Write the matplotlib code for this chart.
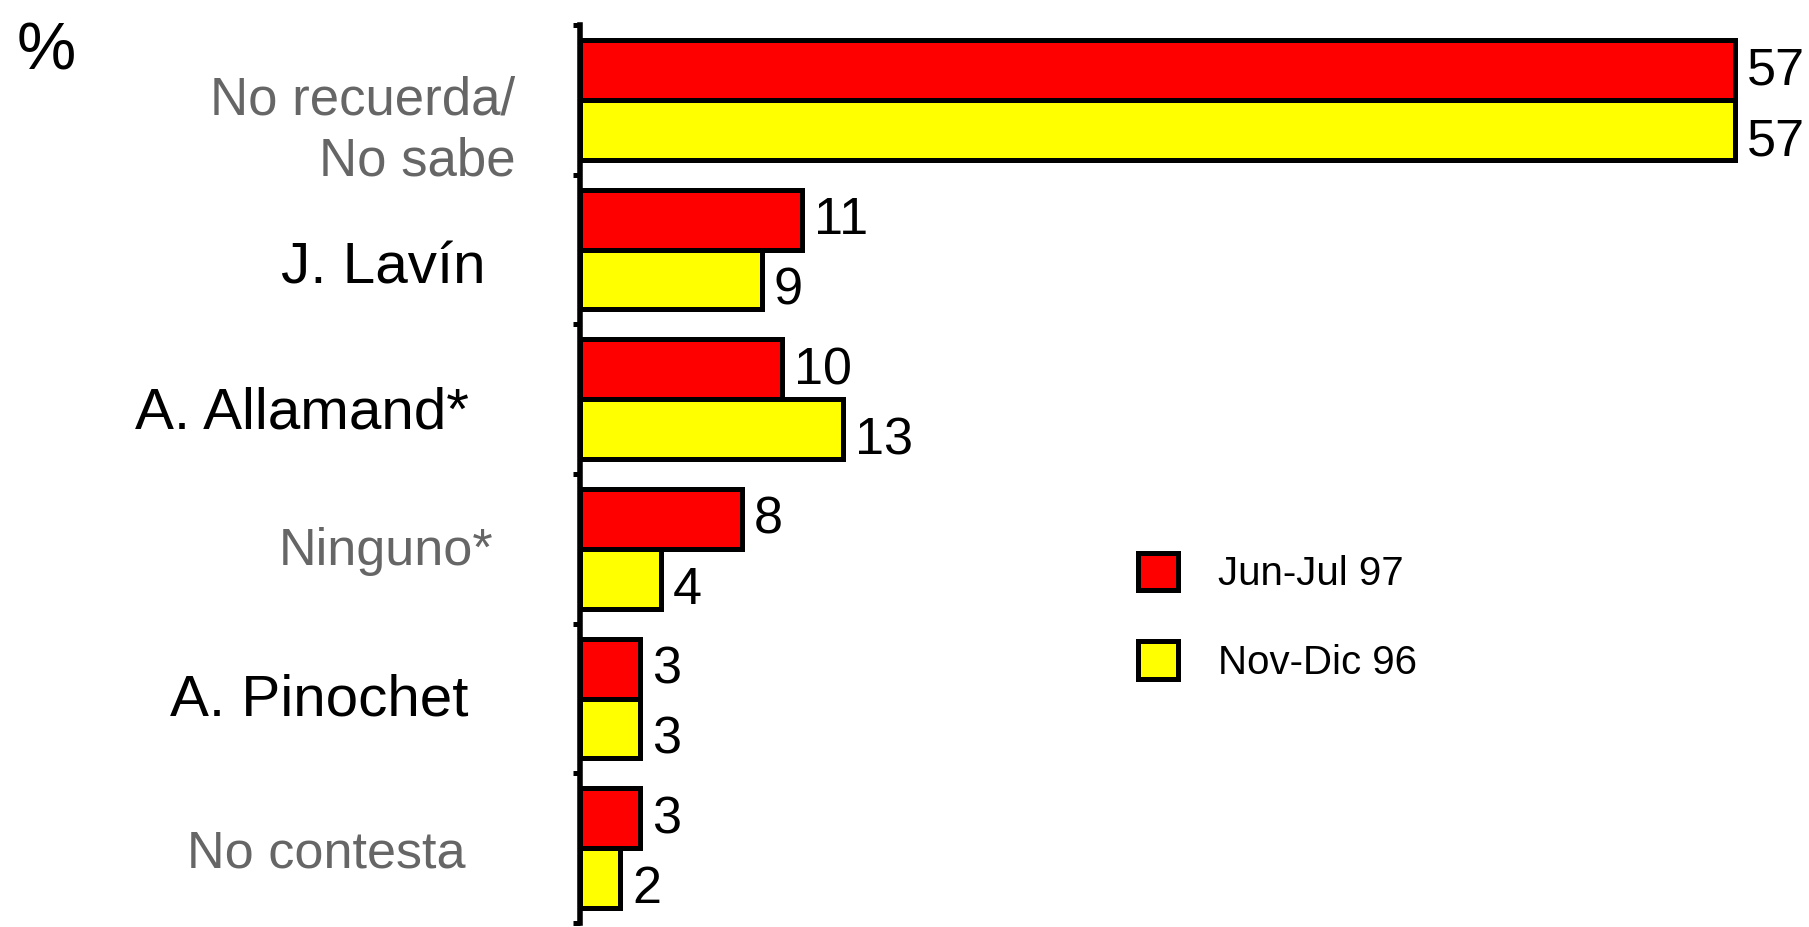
import numpy as np
import matplotlib
matplotlib.use("Agg")
import matplotlib.pyplot as plt
from matplotlib.patches import Patch

plt.rcParams["font.family"] = ["Liberation Sans", "DejaVu Sans"]

# Data
categories = ["No recuerda/\nNo sabe", "J. Lavín", "A. Allamand*", "Ninguno*", "A. Pinochet", "No contesta"]
jun_jul_97 = [57, 11, 10, 8, 3, 3]
nov_dic_96 = [57, 9, 13, 4, 3, 2]
series_names = ["Jun-Jul 97", "Nov-Dic 96"]

# Label styling / layout (offsets in points from the axis line)
label_colors = ["#666666", "black", "black", "#666666", "black", "#666666"]
label_sizes = [38, 42, 42, 37.5, 42, 37.5]
label_dx = [-46, -68, -80, -62, -80, -82]
label_dy = [-22.5, -13.6, -10.5, -2, -1.4, -4]

W, H = 1809, 927
fig = plt.figure(figsize=(W / 100, H / 100), dpi=100)
ax_left, ax_bottom, ax_top = 579.5, 923, 25
ax = fig.add_axes([ax_left / W, (H - ax_bottom) / H, 1 - ax_left / W, (ax_bottom - ax_top) / H])

y = np.arange(len(categories))
h = 0.4
red_bars = ax.barh(y - h / 2, jun_jul_97, height=h, color="#FF0000", edgecolor="black", linewidth=3.6)
yel_bars = ax.barh(y + h / 2, nov_dic_96, height=h, color="#FFFF00", edgecolor="black", linewidth=3.6)

ax.set_ylim(len(categories) - 0.5, -0.5)
ax.set_xlim(0, 60.66)

# value labels
for bars, vals, dy in [(red_bars, jun_jul_97, -1), (yel_bars, nov_dic_96, -8.5)]:
    for b, v in zip(bars, vals):
        ax.annotate(str(v), xy=(b.get_width(), b.get_y() + b.get_height() / 2),
                    xytext=(8.6, dy), textcoords="offset points",
                    ha="left", va="center", fontsize=37.5, color="black")

# category labels
for i, lab in enumerate(categories):
    ax.annotate(lab, xy=(0, i), xycoords=ax.get_yaxis_transform(),
                xytext=(label_dx[i], label_dy[i]), textcoords="offset points",
                ha="right", va="center", multialignment="right",
                fontsize=label_sizes[i], color=label_colors[i], linespacing=1.3)

# axis styling
for s in ["top", "right", "bottom"]:
    ax.spines[s].set_visible(False)
ax.spines["left"].set_linewidth(4)
ax.set_xticks([])
ax.set_yticks(np.arange(len(categories) + 1) - 0.5)
ax.set_yticklabels([])
ax.tick_params(axis="y", direction="out", length=5, width=3.6, color="black")

fig.text(17 / W, 1 - 69 / H, "%", fontsize=48, ha="left", va="baseline")

handles = [Patch(facecolor="#FF0000", edgecolor="black", linewidth=3.6),
           Patch(facecolor="#FFFF00", edgecolor="black", linewidth=3.6)]
fig.legend(handles, series_names, loc="upper left",
           bbox_to_anchor=(1137.5 / W, 1 - 552.5 / H), bbox_transform=fig.transFigure,
           frameon=False, fontsize=29, handlelength=1.0, handleheight=1.05,
           handletextpad=1.0, labelspacing=1.2, borderpad=0, borderaxespad=0)

fig.savefig("out.png", dpi=100)
